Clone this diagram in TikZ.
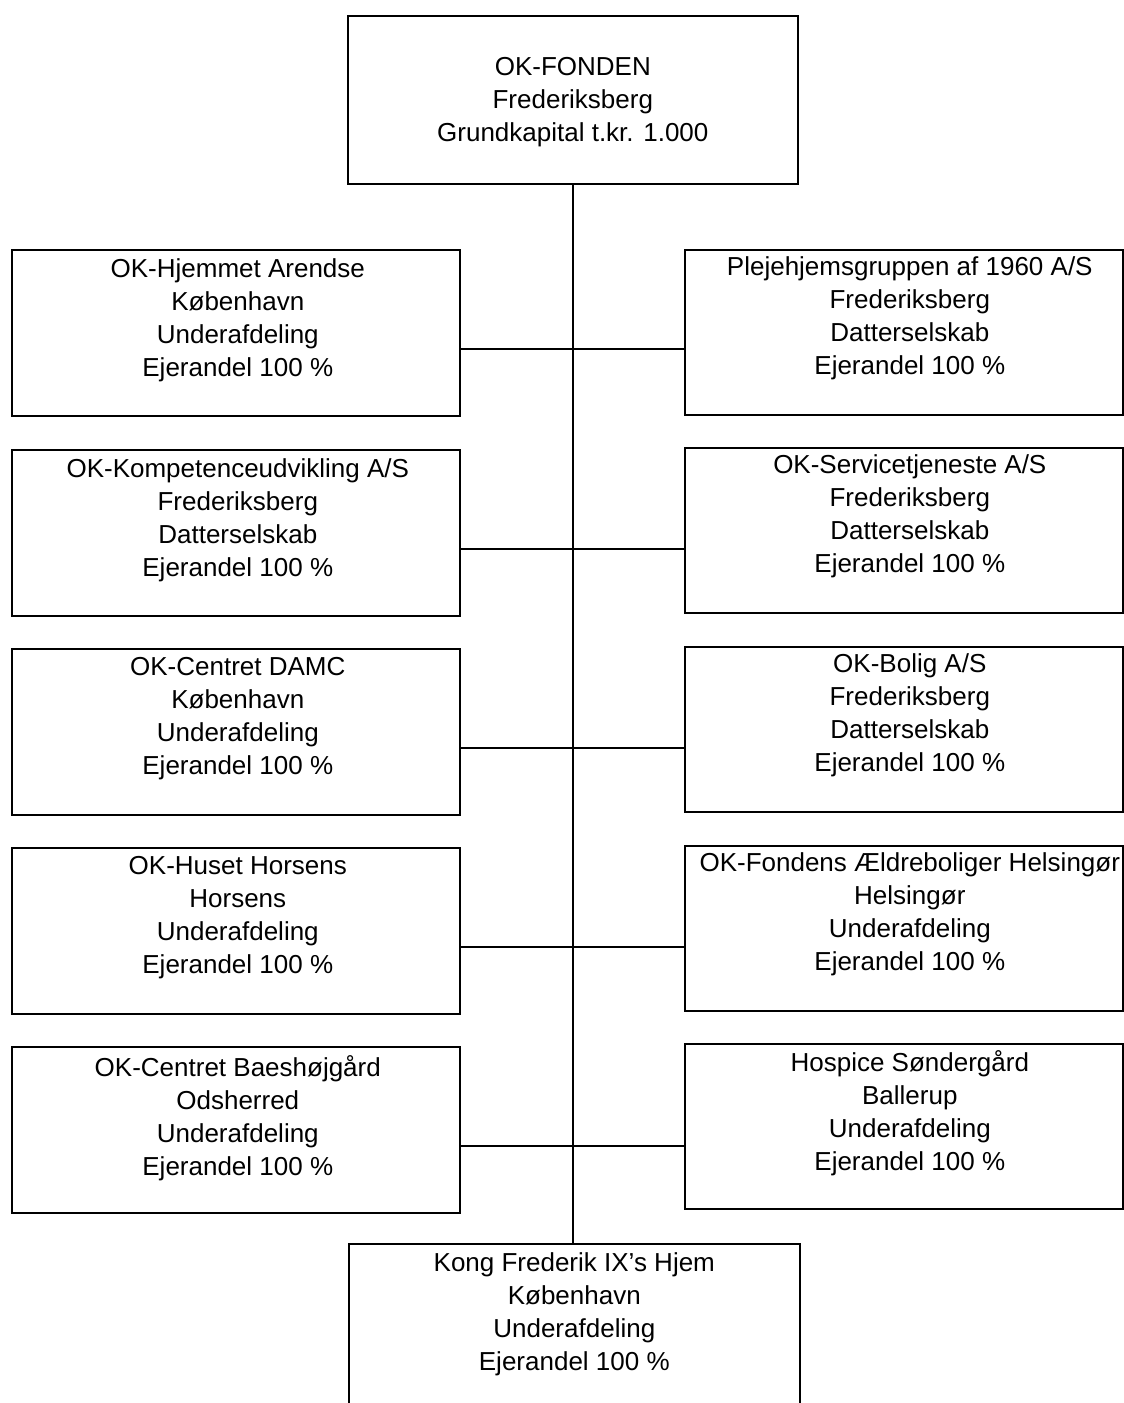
\documentclass[tikz,border=0pt]{standalone}
\usepackage{fontspec}
\setmainfont{Liberation Sans}
\begin{document}
\begin{tikzpicture}[x=1pt,y=-1pt,
  orgbox/.style={draw, line width=1.6pt, inner sep=0pt, anchor=north west, minimum height=166pt},
  lbox/.style={orgbox, minimum width=448pt},
  rbox/.style={orgbox, minimum width=438pt, minimum height=165pt},
  txt/.style={font=\fontsize{26}{33}\selectfont, align=center, inner sep=0pt, anchor=north},
  conn/.style={line width=1.6pt}]
\useasboundingbox (0,0) rectangle (1124,1403);
% top
\node[orgbox, minimum width=450pt, minimum height=168pt] (top) at (347,15) {};
\node[txt] (toptxt) at ([yshift=-42pt]top.north) {OK-FONDEN\\Frederiksberg\\Grundkapital t.kr. 1.000};
% left column
\node[lbox] (l1) at (11,249) {};
\node[lbox] (l2) at (11,449) {};
\node[lbox] (l3) at (11,648) {};
\node[lbox] (l4) at (11,847) {};
\node[lbox] (l5) at (11,1046) {};
\node[txt] (l1t) at ([yshift=-9pt,xshift=2pt]l1.north) {OK-Hjemmet Arendse\\København\\Underafdeling\\Ejerandel 100 \%};
\node[txt] (l2t) at ([yshift=-9pt,xshift=2pt]l2.north) {OK-Kompetenceudvikling A/S\\Frederiksberg\\Datterselskab\\Ejerandel 100 \%};
\node[txt] (l3t) at ([yshift=-9pt,xshift=2pt]l3.north) {OK-Centret DAMC\\København\\Underafdeling\\Ejerandel 100 \%};
\node[txt] (l4t) at ([yshift=-9pt,xshift=2pt]l4.north) {OK-Huset Horsens\\Horsens\\Underafdeling\\Ejerandel 100 \%};
\node[txt] (l5t) at ([yshift=-9pt,xshift=2pt]l5.north) {OK-Centret Baeshøjgård\\Odsherred\\Underafdeling\\Ejerandel 100 \%};
% right column
\node[rbox] (r1) at (684,249) {};
\node[rbox] (r2) at (684,447) {};
\node[rbox] (r3) at (684,646) {};
\node[rbox] (r4) at (684,845) {};
\node[rbox] (r5) at (684,1043) {};
\node[txt] (r1t) at ([yshift=-7pt,xshift=6pt]r1.north) {Plejehjemsgruppen af 1960 A/S\\Frederiksberg\\Datterselskab\\Ejerandel 100 \%};
\node[txt] (r2t) at ([yshift=-7pt,xshift=6pt]r2.north) {OK-Servicetjeneste A/S\\Frederiksberg\\Datterselskab\\Ejerandel 100 \%};
\node[txt] (r3t) at ([yshift=-7pt,xshift=6pt]r3.north) {OK-Bolig A/S\\Frederiksberg\\Datterselskab\\Ejerandel 100 \%};
\node[txt] (r4t) at ([yshift=-7pt,xshift=6pt]r4.north) {OK-Fondens Ældreboliger Helsingør\\Helsingør\\Underafdeling\\Ejerandel 100 \%};
\node[txt] (r5t) at ([yshift=-7pt,xshift=6pt]r5.north) {Hospice Søndergård\\Ballerup\\Underafdeling\\Ejerandel 100 \%};
% bottom
\node[orgbox, minimum width=451pt, minimum height=180pt] (bot) at (348,1243) {};
\node[txt] (bott) at ([yshift=-9pt]bot.north) {Kong Frederik IX{\char39}s Hjem\\København\\Underafdeling\\Ejerandel 100 \%};
% connectors
\draw[conn] (top.south) -- (top.south |- bot.north);
\foreach \i in {1,...,5}{
  \draw[conn] ([yshift=-100pt]l\i.north east) -- ([yshift=-100pt]l\i.north east -| r\i.west);
}
\end{tikzpicture}
\end{document}
